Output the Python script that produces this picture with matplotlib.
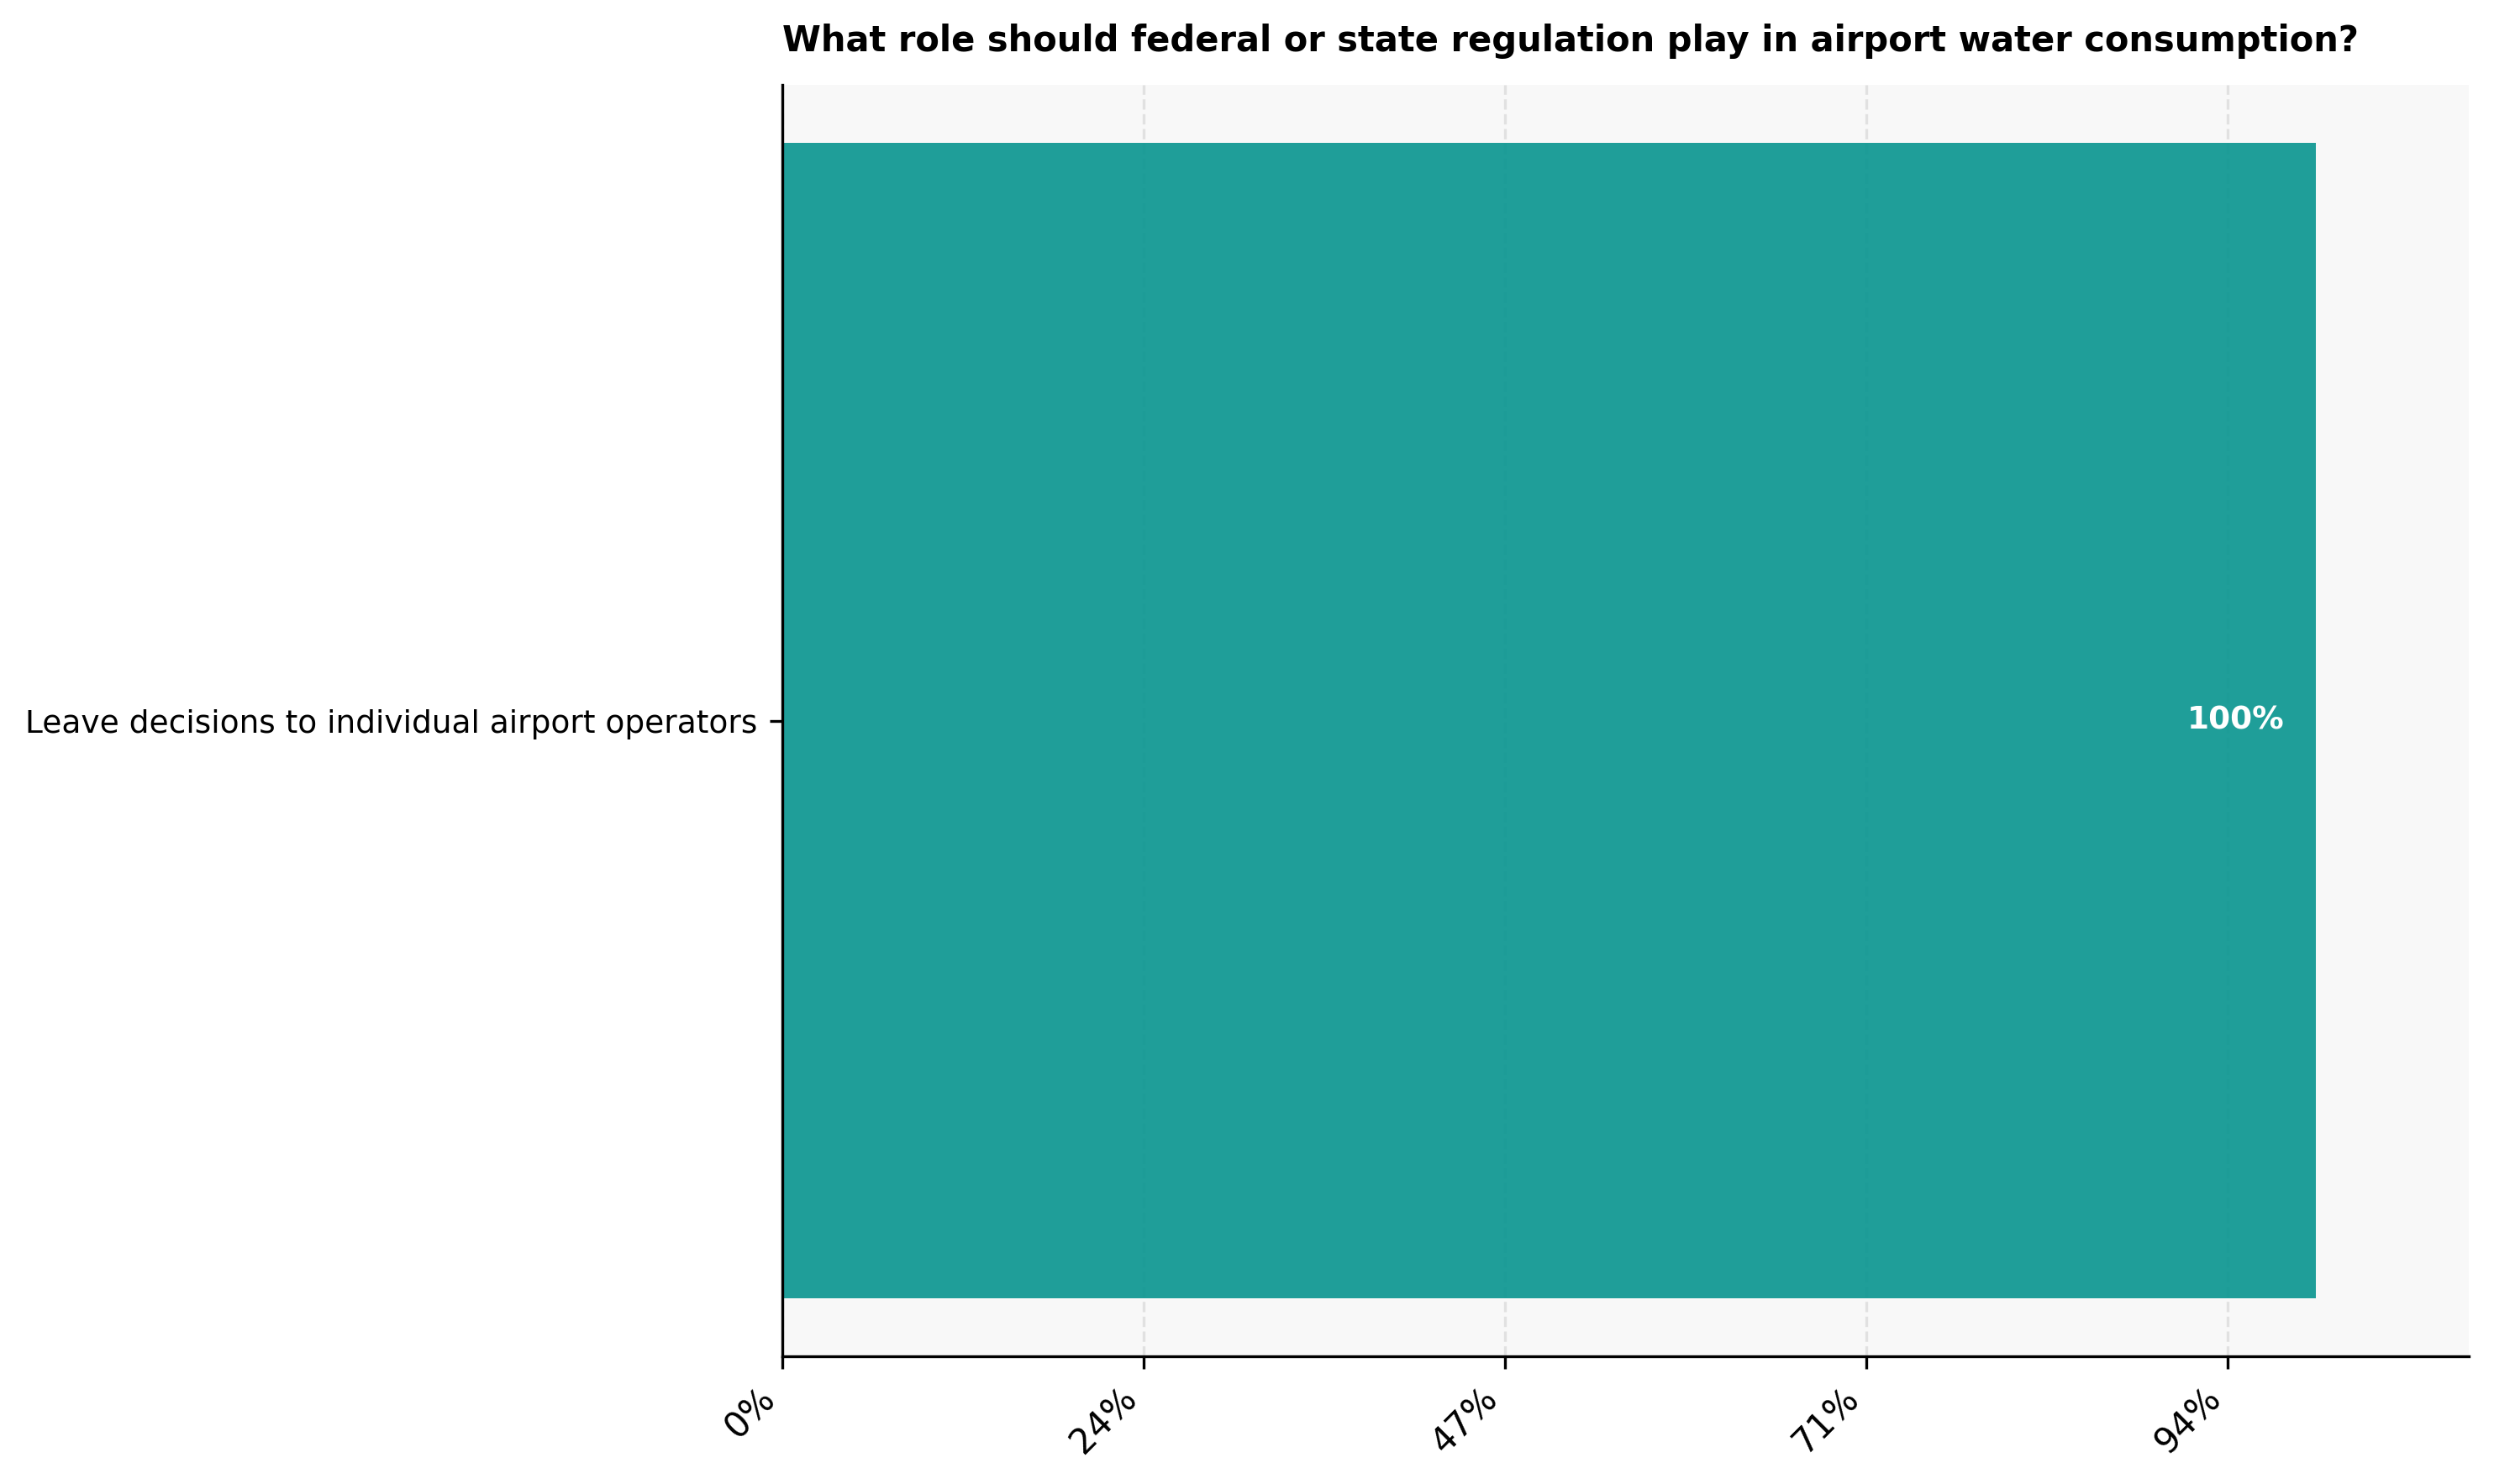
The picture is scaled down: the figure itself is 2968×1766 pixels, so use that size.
import matplotlib
matplotlib.use("Agg")
import matplotlib.pyplot as plt

title = "What role should federal or state regulation play in airport water consumption?"
categories = ["Leave decisions to individual airport operators"]
values = [100]
xtick_values = [0, 23.57, 47.14, 70.71, 94.29]
x_max = 110

W, H, DPI = 2968, 1766, 300
fig = plt.figure(figsize=(W / DPI, H / DPI), dpi=DPI)
ax = fig.add_axes([931 / W, 1 - 1614 / H, (2938 - 931) / W, (1614 - 101) / H])
ax.set_facecolor("#f8f8f8")

bars = ax.barh(categories, values, height=0.8, color="#0c9691", alpha=0.92, zorder=2)
for bar, v in zip(bars, values):
    ax.text(bar.get_width() - 2, bar.get_y() + bar.get_height() / 2, f"{v:.0f}%",
            ha="right", va="center", color="white", fontsize=9, fontweight="bold", zorder=3)

ax.set_xlim(0, x_max)
ax.set_xticks(xtick_values)
ax.set_xticklabels([f"{round(t)}%" for t in xtick_values], rotation=45, ha="right", fontsize=10)
ax.tick_params(axis="y", labelsize=9)
ax.grid(axis="x", linestyle="--", color="#d8d8d8", alpha=0.7, linewidth=0.8, zorder=1)
ax.set_axisbelow(True)
for s in ["top", "right"]:
    ax.spines[s].set_visible(False)

ax.set_title(title, loc="left", fontsize=10, fontweight="bold", pad=9.6)

fig.savefig("out.png", dpi=DPI)
